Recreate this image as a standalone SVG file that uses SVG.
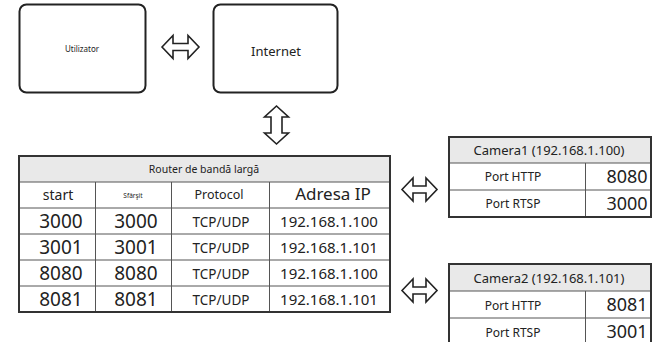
<svg xmlns="http://www.w3.org/2000/svg" width="652" height="342" viewBox="0 0 652 342">
<style>
text{font-family:"Noto Sans","Open Sans","DejaVu Sans",sans-serif;fill:#222;text-anchor:middle}
.box{fill:#fff;stroke:#222;stroke-width:2}
.arr{fill:#fff;stroke:#222;stroke-width:1.6;stroke-linejoin:miter}
.outer{fill:none;stroke:#333;stroke-width:2}
.hdr{fill:#e9e9e9}
.ln{stroke:#555;stroke-width:1}
</style>
<rect width="652" height="342" fill="#fff"/>
<g id="utilizator">
<rect class="box" x="19.5" y="4.5" width="126" height="88" rx="7"/>
<text x="82" y="52" font-size="8" fill="#444">Utilizator</text>
</g>
<g id="internet">
<rect class="box" x="213.5" y="4.5" width="124" height="88" rx="7"/>
<text x="276" y="56" font-size="13">Internet</text>
</g>
<g id="connectors">
<polygon class="arr" points="162,47 173,35.5 173,43.5 188,43.5 188,35.5 199,47 188,58.5 188,50.5 173,50.5 173,58.5"/>
<polygon class="arr" points="276.5,106 288.5,117 282,117 282,133 288.5,133 276.5,144 264.5,133 271,133 271,117 264.5,117"/>
<polygon class="arr" points="402,189.5 413,178 413,186 426,186 426,178 437,189.5 426,201 426,193 413,193 413,201"/>
<polygon class="arr" points="402,290.5 413,279 413,287 426,287 426,279 437,290.5 426,302 426,294 413,294 413,302"/>
</g>
<g id="router">
<rect class="hdr" x="19" y="156" width="371" height="26"/>
<line class="ln" x1="19" y1="182" x2="390" y2="182"/>
<line class="ln" x1="19" y1="208" x2="390" y2="208"/>
<line class="ln" x1="19" y1="234" x2="390" y2="234"/>
<line class="ln" x1="19" y1="260" x2="390" y2="260"/>
<line class="ln" x1="19" y1="286" x2="390" y2="286"/>
<line class="ln" x1="95.5" y1="182" x2="95.5" y2="312"/>
<line class="ln" x1="171.5" y1="182" x2="171.5" y2="312"/>
<line class="ln" x1="269.5" y1="182" x2="269.5" y2="312"/>
<rect class="outer" x="19" y="156" width="371" height="156"/>
<text x="204" y="173" font-size="10.5">Router de bandă largă</text>
<text x="58" y="200" font-size="14">start</text>
<text x="133" y="198" font-size="6.5">Sfârşit</text>
<text x="219" y="199" font-size="12.5">Protocol</text>
<text x="333" y="200" font-size="17">Adresa IP</text>
<text x="61" y="228" font-size="19">3000</text>
<text x="136" y="228" font-size="19">3000</text>
<text x="221" y="227" font-size="13.5">TCP/UDP</text>
<text x="329" y="227" font-size="15">192.168.1.100</text>
<text x="61" y="254" font-size="19">3001</text>
<text x="136" y="254" font-size="19">3001</text>
<text x="221" y="253" font-size="13.5">TCP/UDP</text>
<text x="329" y="253" font-size="15">192.168.1.101</text>
<text x="61" y="280" font-size="19">8080</text>
<text x="136" y="280" font-size="19">8080</text>
<text x="221" y="279" font-size="13.5">TCP/UDP</text>
<text x="329" y="279" font-size="15">192.168.1.100</text>
<text x="61" y="306" font-size="19">8081</text>
<text x="136" y="306" font-size="19">8081</text>
<text x="221" y="305" font-size="13.5">TCP/UDP</text>
<text x="329" y="305" font-size="15">192.168.1.101</text>
</g>
<g id="camera1">
<rect class="hdr" x="449" y="137" width="202" height="26"/>
<line class="ln" x1="449" y1="163" x2="651" y2="163"/>
<line class="ln" x1="449" y1="190" x2="651" y2="190"/>
<line class="ln" x1="585.5" y1="163" x2="585.5" y2="217"/>
<rect class="outer" x="449" y="137" width="202" height="80"/>
<text x="549" y="155" font-size="13">Camera1 (192.168.1.100)</text>
<text x="513" y="181" font-size="12">Port HTTP</text>
<text x="627" y="183" font-size="18">8080</text>
<text x="513" y="208" font-size="12">Port RTSP</text>
<text x="627" y="210" font-size="18">3000</text>
</g>
<g id="camera2">
<rect class="hdr" x="449" y="264" width="202" height="27"/>
<line class="ln" x1="449" y1="291" x2="651" y2="291"/>
<line class="ln" x1="449" y1="318" x2="651" y2="318"/>
<line class="ln" x1="585.5" y1="291" x2="585.5" y2="345"/>
<rect class="outer" x="449" y="264" width="202" height="81"/>
<text x="549" y="283" font-size="13">Camera2 (192.168.1.101)</text>
<text x="513" y="310" font-size="12">Port HTTP</text>
<text x="627" y="311" font-size="18">8081</text>
<text x="513" y="337" font-size="12">Port RTSP</text>
<text x="627" y="338" font-size="18">3001</text>
</g>
</svg>
